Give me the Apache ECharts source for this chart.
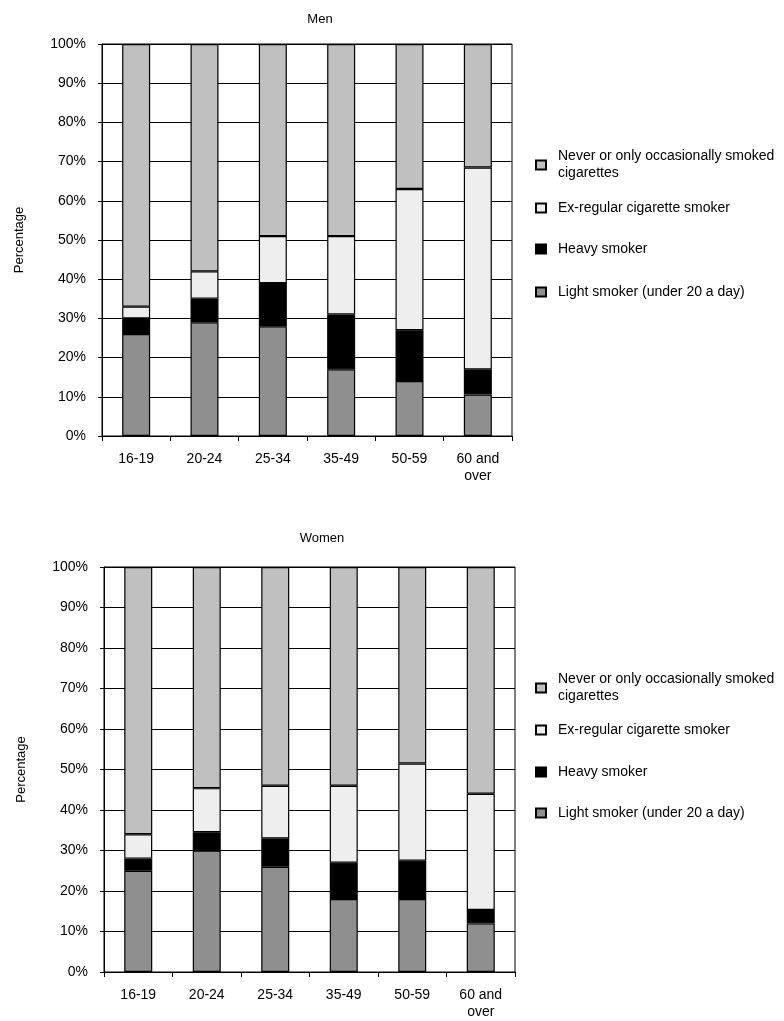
<!DOCTYPE html>
<html>
<head>
<meta charset="utf-8">
<script src="https://cdn.jsdelivr.net/npm/echarts@6/dist/echarts.min.js"></script>
<style>
html,body{margin:0;padding:0;background:#fff;}
#chart{width:784px;height:1021px;}
</style>
</head>
<body>
<div id="chart"></div>
<script>
// ---- data ----
const categories = ['16-19', '20-24', '25-34', '35-49', '50-59', '60 and\nover'];
const seriesNames = ['Light smoker (under 20 a day)', 'Heavy smoker', 'Ex-regular cigarette smoker', 'Never or only occasionally smoked cigarettes'];
const menLight = [26, 29, 28, 17, 14, 10.6];
const menHeavy = [4, 6, 11, 14, 13, 6.4];
const menEx = [3, 7, 12, 20, 36, 51.5];
const menNever = [67, 58, 49, 49, 37, 31.5];
const womenLight = [25, 30, 26, 18, 18, 12];
const womenHeavy = [3, 4.5, 7, 9, 9.5, 3.3];
const womenEx = [6, 10.9, 13, 19, 24, 28.7];
const womenNever = [66, 54.6, 54, 54, 48.5, 56];
const titles = ['Men', 'Women'];
const yTitle = 'Percentage';

// ---- styles ----
const colors = ['#8f8f8f', '#000000', '#eeeeee', '#c0c0c0'];
const FONT = "'Liberation Sans', Arial, sans-serif";
const NARROW = "'Liberation Sans Narrow', 'Liberation Sans', Arial, sans-serif";

const grids = [
  {left: 102, top: 44, width: 410, height: 392},
  {left: 104, top: 567, width: 411, height: 405}
];

const chart = echarts.init(document.getElementById('chart'), null, {renderer: 'canvas'});

const gridOpts = grids.map(g => Object.assign({show: true, borderColor: '#000', borderWidth: 1, backgroundColor: 'transparent'}, g));

const xAxes = grids.map((g, i) => ({
  type: 'category', gridIndex: i, data: categories,
  axisLine: {lineStyle: {color: '#000', width: 1}},
  axisTick: {show: true, length: 5, lineStyle: {color: '#000'}},
  axisLabel: {color: '#000', fontFamily: FONT, fontSize: 14, margin: 15, lineHeight: 17, interval: 0}
}));

const yAxes = grids.map((g, i) => ({
  type: 'value', gridIndex: i, min: 0, max: 100, interval: 10,
  name: yTitle, nameLocation: 'middle', nameGap: 76,
  nameTextStyle: {color: '#000', fontFamily: FONT, fontSize: 13},
  axisLine: {show: true, lineStyle: {color: '#000', width: 1}},
  axisTick: {show: true, length: 4, lineStyle: {color: '#000'}},
  axisLabel: {color: '#000', fontFamily: NARROW, fontSize: 14, margin: 16, formatter: '{value}%'},
  splitLine: {show: true, lineStyle: {color: '#000', width: 1}}
}));

const dataSets = [
  [menLight, menHeavy, menEx, menNever],
  [womenLight, womenHeavy, womenEx, womenNever]
];

const series = [];
dataSets.forEach((set, gi) => {
  set.forEach((vals, si) => {
    series.push({
      name: seriesNames[si], type: 'bar', stack: 'g' + gi,
      xAxisIndex: gi, yAxisIndex: gi, barWidth: 28,
      data: vals,
      itemStyle: {color: colors[si], borderColor: '#000', borderWidth: 1.2},
      emphasis: {disabled: true}
    });
  });
});

// legend positions (centres of icon rows)
const legendCentres = [
  [165, 208, 249, 292],
  [688, 730, 772, 813]
];
const legendOrder = [3, 2, 1, 0];
const legends = [];
legendCentres.forEach(cs => {
  legendOrder.forEach((si, k) => {
    const multi = si === 3;
    legends.push({
      data: [seriesNames[si]], orient: 'vertical', left: 535,
      top: multi ? cs[k] - 25.5 : cs[k] - 8.5,
      padding: 0, itemWidth: 10, itemHeight: 9, icon: 'rect', selectedMode: false,
      formatter: multi ? 'Never or only occasionally smoked\ncigarettes' : '{name}',
      textStyle: {color: '#000', fontFamily: FONT, fontSize: 14, lineHeight: 17,
        padding: multi ? [17, 0, 0, 7] : [0, 0, 0, 7]}
    });
  });
});

const titleOpts = [
  {text: titles[0], left: 315, top: 8, textAlign: 'center', textStyle: {color: '#000', fontFamily: FONT, fontSize: 13, fontWeight: 'normal'}},
  {text: titles[1], left: 317, top: 527, textAlign: 'center', textStyle: {color: '#000', fontFamily: FONT, fontSize: 13, fontWeight: 'normal'}}
];

chart.setOption({
  animation: false,
  backgroundColor: '#fff',
  title: titleOpts,
  grid: gridOpts,
  xAxis: xAxes,
  yAxis: yAxes,
  legend: legends,
  series: series
});
</script>
</body>
</html>
